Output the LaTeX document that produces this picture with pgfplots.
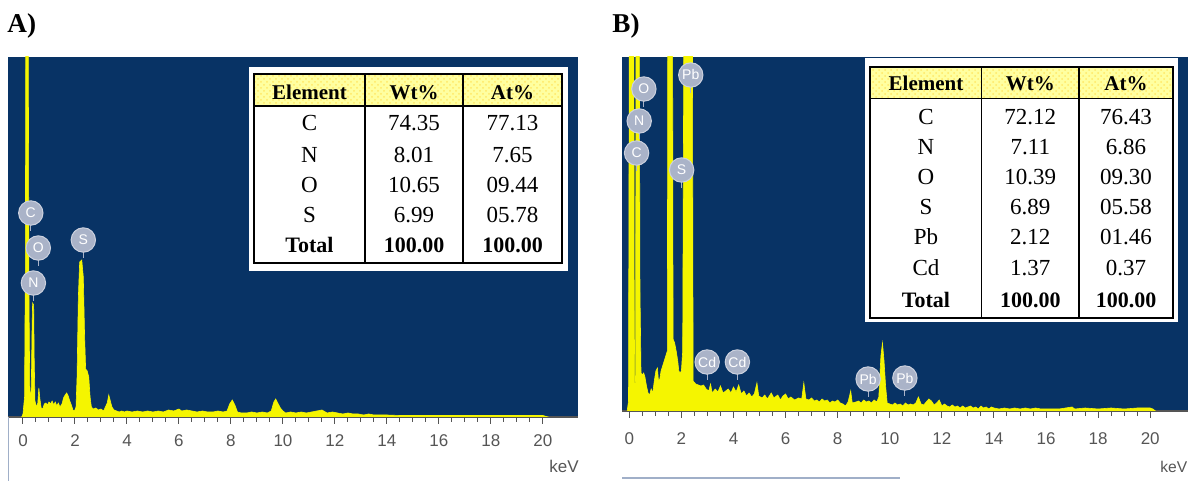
\documentclass[border=0pt]{standalone}
\usepackage{fontspec}
\setmainfont{Liberation Serif}
\newfontfamily\arialfont{Liberation Sans}
\usepackage{pgfplots}
\pgfplotsset{compat=1.18}
\usetikzlibrary{patterns}
\definecolor{edsblue}{RGB}{8,51,101}
\definecolor{edsyellow}{RGB}{245,245,0}
\definecolor{hdryellow}{RGB}{255,255,160}
\definecolor{circfill}{RGB}{170,179,200}
\definecolor{tickgray}{RGB}{85,85,85}
\definecolor{framegray}{RGB}{160,175,200}

\pgfplotsset{
  edsaxis/.style={
    scale only axis, anchor=south west,
    axis background/.style={fill=edsblue},
    axis x line*=bottom, axis y line=none,
    ymin=0, ytick=\empty,
    xtick={0,2,...,20}, minor x tick num=3,
    tick align=outside, major tick length=3.5pt, minor tick length=2.5pt,
    every tick/.style={tickgray, line width=0.5pt},
    x axis line style={tickgray, line width=0.7pt},
    /pgf/number format/assume math mode=true,
    xticklabel style={font=\arialfont\fontsize{8.5}{10}\selectfont, text=tickgray, inner sep=0pt, anchor=north},
    clip=true,
  },
}
\tikzset{
  elem/.style={circle, fill=circfill, draw=circfill!60!white, line width=0.5pt, minimum size=12.2pt, inner sep=0pt, text=white, font=\arialfont\fontsize{7}{8}\selectfont},
  spec/.style={fill=edsyellow, draw=edsyellow, line width=0.3pt},
}
\newcommand\elem[3]{\draw[circfill, line width=0.6pt] (axis cs:#1,#2) -- ([yshift=-9pt]axis cs:#1,#2); \node[elem] at (axis cs:#1,#2) {#3};}

\begin{document}
\begin{tikzpicture}
\path[use as bounding box] (0,0) rectangle (594pt,240.5pt);

% ---------------- Panel A ----------------
\begin{axis}[edsaxis, at={(4pt,32pt)}, width=285pt, height=180pt,
  xmin=-0.577, xmax=21.35, ymax=360,
  xticklabel style={yshift=-5pt}]
\addplot[spec] coordinates {
(-0.05,0) (0.0,3) (0.06,20) (0.09,150) (0.11,400) (0.2,400) (0.23,120) (0.26,30) (0.29,14)
(0.32,30) (0.35,90) (0.37,114) (0.41,112) (0.43,60) (0.46,16) (0.52,10) (0.57,14) (0.61,29)
(0.65,18) (0.7,9) (0.76,8) (0.82,13) (0.88,14) (0.94,12) (1.0,15) (1.06,13) (1.12,16) (1.18,12)
(1.24,15) (1.3,11) (1.36,14) (1.42,10) (1.5,13) (1.56,19) (1.62,22) (1.68,24) (1.74,21) (1.8,16)
(1.86,12) (1.92,7) (1.98,6) (2.04,10) (2.08,40) (2.13,120) (2.18,155) (2.26,157) (2.32,140)
(2.37,80) (2.41,48) (2.47,46) (2.53,40) (2.58,20) (2.63,10) (2.7,8) (2.8,9) (2.9,7) (3.0,8)
(3.1,6) (3.17,10) (3.24,14) (3.3,22) (3.36,16) (3.42,10) (3.5,7) (3.6,6) (3.7,5) (3.8,6)
(3.9,5) (4.0,6) (4.2,5) (4.4,6) (4.6,5) (4.8,6) (5.0,5) (5.2,6) (5.4,5) (5.6,7) (5.8,6)
(6.0,8) (6.1,6) (6.3,7) (6.5,6) (6.7,5) (6.9,6) (7.1,5) (7.3,5) (7.5,6) (7.7,5) (7.85,6)
(7.95,13) (8.05,17) (8.15,12) (8.25,5) (8.4,4) (8.6,4) (8.8,5) (9.0,4) (9.2,5) (9.4,4)
(9.55,6) (9.65,15) (9.72,18) (9.8,14) (9.9,9) (10.0,6) (10.1,4) (10.3,5) (10.5,4) (10.7,5)
(10.9,4) (11.1,5) (11.3,6) (11.5,7) (11.7,4) (11.9,5) (12.1,4) (12.3,3) (12.5,4) (12.7,3)
(12.9,3) (13.1,2) (13.3,3) (13.5,2) (13.7,2) (14.0,2) (14.5,1.5) (15.0,1.5) (15.5,1.5)
(16.0,1.5) (16.5,1.5) (17.0,1.5) (17.5,1.5) (18.0,1.5) (18.5,1.5) (19.0,1.5) (19.5,1.5)
(20.0,1.5) (20.2,0)
} \closedcycle;
\elem{0.40}{134}{N}
\elem{0.59}{169}{O}
\elem{0.30}{204}{C}
\elem{2.32}{177}{S}
\end{axis}

% ---------------- Panel B ----------------
\begin{axis}[edsaxis, at={(311pt,35pt)}, width=283pt, height=177pt,
  xmin=-0.28, xmax=21.45, ymax=354,
  xticklabel style={yshift=-7pt}]
\addplot[spec] coordinates {
(-0.08,0) (-0.03,10) (0.0,380) (0.03,420) (0.17,420) (0.19,100) (0.21,25) (0.24,30)
(0.26,420) (0.38,420) (0.41,120) (0.45,38) (0.5,36) (0.55,38) (0.6,34) (0.66,25) (0.72,18)
(0.78,16) (0.84,22) (0.9,18) (0.96,30) (1.02,40) (1.08,43) (1.12,30) (1.17,32) (1.22,40)
(1.28,45) (1.34,50) (1.4,55) (1.46,60) (1.48,420) (1.66,420) (1.68,72) (1.74,68) (1.8,60)
(1.86,50) (1.9,40) (1.95,38) (2.0,40) (2.05,60) (2.1,420) (2.42,420) (2.45,30) (2.55,27)
(2.65,26) (2.75,25) (2.85,26) (2.95,22) (3.05,20) (3.12,27) (3.18,18) (3.3,22) (3.4,19)
(3.5,25) (3.6,18) (3.7,20) (3.8,22) (3.9,18) (4.0,24) (4.1,19) (4.2,26) (4.3,17) (4.4,20)
(4.5,15) (4.6,18) (4.7,14) (4.8,17) (4.9,28) (4.97,15) (5.1,13) (5.2,16) (5.3,12) (5.45,18)
(5.55,13) (5.7,16) (5.8,11) (5.9,15) (6.0,17) (6.1,12) (6.2,14) (6.35,11) (6.5,13) (6.62,12)
(6.7,28) (6.78,12) (6.9,11) (7.0,13) (7.1,10) (7.2,11) (7.3,9) (7.4,12) (7.5,10) (7.6,11)
(7.7,8) (7.8,10) (7.9,9) (8.0,11) (8.1,8) (8.2,7) (8.3,5) (8.4,9) (8.5,20) (8.56,8) (8.7,9)
(8.8,10) (8.9,8) (9.0,11) (9.1,9) (9.2,10) (9.3,8) (9.4,11) (9.5,9) (9.58,14) (9.66,55)
(9.72,68) (9.78,50) (9.84,25) (9.9,8) (10.0,7) (10.1,6) (10.2,8) (10.3,6) (10.4,7) (10.5,5)
(10.6,8) (10.7,6) (10.8,7) (10.9,6) (11.0,8) (11.1,14) (11.2,7) (11.3,6) (11.4,9) (11.5,12)
(11.6,10) (11.7,6) (11.8,8) (11.9,11) (12.0,5) (12.1,7) (12.2,5) (12.3,4) (12.4,6) (12.5,4)
(12.6,5) (12.7,3) (12.8,5) (12.9,3) (13.0,4) (13.1,5) (13.2,3) (13.3,4) (13.4,2) (13.5,5)
(13.6,3) (13.7,4) (13.8,2) (13.9,4) (14.0,3) (14.2,2) (14.4,3) (14.6,2) (14.8,3) (15.0,2)
(15.2,3) (15.4,2) (15.6,3) (15.8,2) (16.0,2) (16.5,2) (17.0,4) (17.1,2) (17.5,3) (18.0,2)
(18.5,3) (19.0,2) (19.5,3) (20.0,3) (20.1,2) (20.2,0)
} \closedcycle;
\elem{0.28}{258}{C}
\elem{0.38}{290}{N}
\elem{0.56}{322}{O}
\elem{2.36}{336}{Pb}
\elem{2.01}{241}{S}
\elem{2.99}{49}{Cd}
\elem{4.15}{49}{Cd}
\elem{9.17}{32}{Pb}
\elem{10.58}{33}{Pb}
\end{axis}

% --------------- overlay in pixel units -----------------
\begin{scope}[x=0.5pt, y=-0.5pt, yshift=240.5pt]
\draw[framegray, line width=0.5pt] (8,417) -- (8,481);
\draw[framegray, line width=0.6pt] (622,478) -- (900,478);
\node[anchor=base west, font=\bfseries\fontsize{13.6}{14}\selectfont, inner sep=0pt] at (7,33) {A)};
\node[anchor=base west, font=\bfseries\fontsize{13.6}{14}\selectfont, inner sep=0pt] at (612,33) {B)};
\node[anchor=base west, font=\arialfont\fontsize{8.5}{10}\selectfont, text=tickgray, inner sep=0pt] at (549,473) {keV};
\node[anchor=base west, font=\arialfont\fontsize{7.8}{9}\selectfont, text=tickgray, inner sep=0pt] at (1160,473) {keV};

% Table A
\fill[white] (249,67) rectangle (568,271);
\fill[hdryellow] (254,74) rectangle (562,106);
\fill[pattern=crosshatch dots, pattern color=yellow!70!orange!60] (254,74) rectangle (562,106);
\draw[line width=1pt] (254,74) rectangle (562,263);
\draw[line width=0.6pt] (254,106) -- (562,106) (365,74) -- (365,263) (463,74) -- (463,263);
\begin{scope}[every node/.style={inner sep=0pt, anchor=base}]
\foreach \t/\x in {Element/309.5, Wt\%/414, At\%/512.5}
  \node[font=\bfseries\fontsize{10.5}{12}\selectfont] at (\x,99.3) {\t};
\foreach \a/\b/\c/\y in {C/74.35/77.13/123.3, N/8.01/7.65/154.7, O/10.65/09.44/185, S/6.99/05.78/215}{
  \node[font=\fontsize{11.5}{12}\selectfont] at (309.5,\y+7.6) {\a};
  \node[font=\fontsize{11.5}{12}\selectfont] at (414,\y+7.6) {\b};
  \node[font=\fontsize{11.5}{12}\selectfont] at (512.5,\y+7.6) {\c};
}
\node[font=\bfseries\fontsize{11}{12}\selectfont] at (309.5,252.3) {Total};
\node[font=\bfseries\fontsize{11}{12}\selectfont] at (414,252.3) {100.00};
\node[font=\bfseries\fontsize{11}{12}\selectfont] at (512.5,252.3) {100.00};
\end{scope}

% Table B
\fill[white] (865,58) rectangle (1178,322);
\fill[hdryellow] (870,66.7) rectangle (1173,98.3);
\fill[pattern=crosshatch dots, pattern color=yellow!70!orange!60] (870,66.7) rectangle (1173,98.3);
\draw[line width=1pt] (870,66.7) rectangle (1173,318);
\draw[line width=0.6pt] (870,98.3) -- (1173,98.3) (981.7,66.7) -- (981.7,318) (1079,66.7) -- (1079,318);
\begin{scope}[every node/.style={inner sep=0pt, anchor=base}]
\foreach \t/\x in {Element/926, Wt\%/1030.3, At\%/1126}
  \node[font=\bfseries\fontsize{10.5}{12}\selectfont] at (\x,90.3) {\t};
\foreach \a/\b/\c/\y in {C/72.12/76.43/116.7, N/7.11/6.86/146.7, O/10.39/09.30/176.7, S/6.89/05.58/206.7, Pb/2.12/01.46/237, Cd/1.37/0.37/268}{
  \node[font=\fontsize{11.5}{12}\selectfont] at (926,\y+7.6) {\a};
  \node[font=\fontsize{11.5}{12}\selectfont] at (1030.3,\y+7.6) {\b};
  \node[font=\fontsize{11.5}{12}\selectfont] at (1126,\y+7.6) {\c};
}
\node[font=\bfseries\fontsize{11}{12}\selectfont] at (926,307.3) {Total};
\node[font=\bfseries\fontsize{11}{12}\selectfont] at (1030.3,307.3) {100.00};
\node[font=\bfseries\fontsize{11}{12}\selectfont] at (1126,307.3) {100.00};
\end{scope}
\end{scope}
\end{tikzpicture}
\end{document}
